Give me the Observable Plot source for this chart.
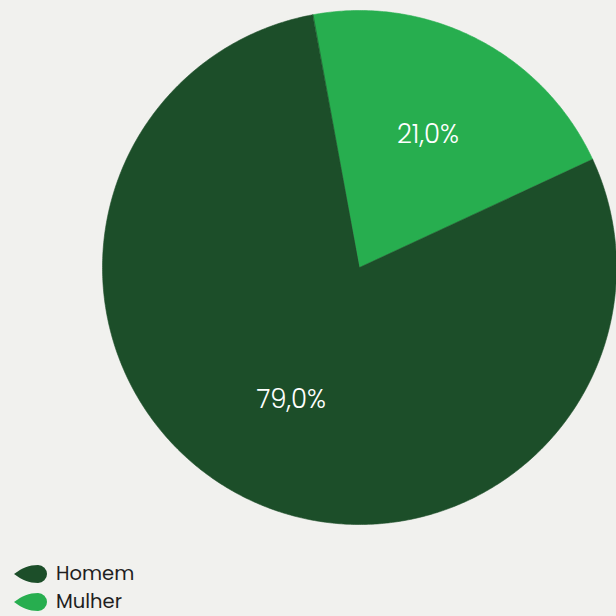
<!DOCTYPE html>
<html>
<head>
<meta charset="utf-8">
<script src="https://cdn.jsdelivr.net/npm/d3@7"></script>
<script src="https://cdn.jsdelivr.net/npm/@observablehq/plot@0.6"></script>
<style>
  html, body { margin: 0; padding: 0; background: #f1f1ee; }
  #chart svg { display: block; background: #f1f1ee; }
  #legend { position: absolute; left: 14px; top: 560.25px; font-family: Poppins, Inter, "Open Sans", sans-serif; font-size: 19.5px; color: #1f1f1f; }
  .item { display: flex; align-items: center; height: 27.5px; }
  .item span { line-height: 1; display: inline-block; }
  .item svg { margin-right: 8px; }
</style>
</head>
<body>
<div id="chart"></div>
<div id="legend"></div>
<script>
// ---- data ----
const categories = ["Mulher", "Homem"];
const values = [21.0, 79.0];
const colors = ["#27ae4f", "#1c4e29"];
const legendOrder = ["Homem", "Mulher"];

// ---- layout ----
const W = 616, H = 556, cx = 359, cy = 267, R = 257;
const startDeg = -10.5;

const pie = d3.pie().sort(null).value(d => d.value)
  .startAngle(startDeg * Math.PI / 180)
  .endAngle(startDeg * Math.PI / 180 + 2 * Math.PI);
const arcs = pie(categories.map((c, i) => ({cat: c, value: values[i]})));

const poly = [];
for (const a of arcs) {
  poly.push({cat: a.data.cat, x: 0, y: 0});
  const n = Math.max(8, Math.ceil((a.endAngle - a.startAngle) / (Math.PI / 360)));
  for (let k = 0; k <= n; k++) {
    const t = a.startAngle + (a.endAngle - a.startAngle) * k / n;
    poly.push({cat: a.data.cat, x: Math.sin(t), y: Math.cos(t)});
  }
}
const labelR = 0.58;
const labels = arcs.map(a => {
  const m = (a.startAngle + a.endAngle) / 2;
  return {cat: a.data.cat, x: labelR * Math.sin(m), y: labelR * Math.cos(m),
          text: a.data.value.toFixed(1).replace(".", ",") + "%"};
});

const chart = Plot.plot({
  width: W, height: H,
  margin: 0,
  style: {background: "#f1f1ee"},
  x: {domain: [-cx / R, (W - cx) / R], range: [0, W], axis: null},
  y: {domain: [-(H - cy) / R, cy / R], range: [H, 0], axis: null},
  color: {domain: categories, range: colors},
  marks: [
    Plot.line(poly, {x: "x", y: "y", z: "cat", fill: "cat", stroke: "cat", strokeWidth: 0.6, curve: "linear-closed"}),
    Plot.text(labels, {x: "x", y: "y", text: "text", fill: "white", fontSize: 26, fontWeight: 300,
      fontFamily: "Poppins, Inter, 'Open Sans', sans-serif"})
  ]
});
document.getElementById("chart").append(chart);

// ---- legend ----
const lg = document.getElementById("legend");
for (const c of legendOrder) {
  const col = colors[categories.indexOf(c)];
  const div = document.createElement("div");
  div.className = "item";
  div.innerHTML = `<svg width="34" height="18" viewBox="0 0 34 18"><path d="M0,9 C8,3 15,0 24,0 A9,9 0 0 1 24,18 C15,18 8,15 0,9 Z" fill="${col}"/></svg><span>${c}</span>`;
  lg.append(div);
}
</script>
</body>
</html>
